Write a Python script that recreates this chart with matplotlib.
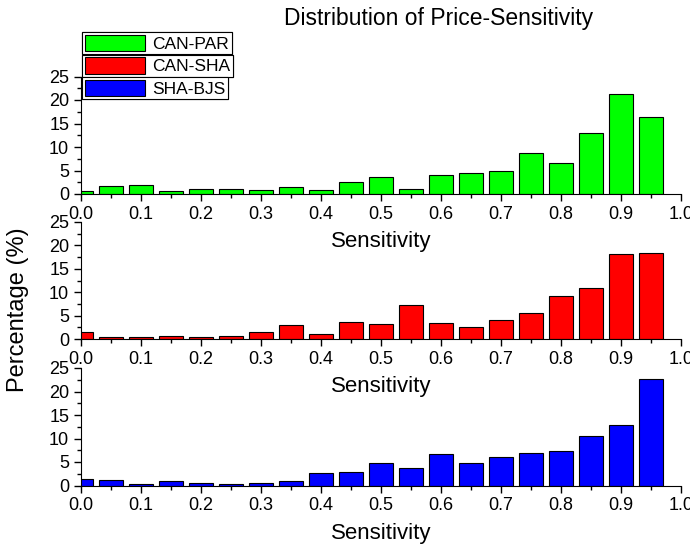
import numpy as np
import matplotlib.pyplot as plt
from matplotlib.patches import Patch
from matplotlib.ticker import MultipleLocator

plt.rcParams['font.family'] = ['Liberation Sans', 'DejaVu Sans']

# bin centres (0.00, 0.05, ... 0.95)
bins = [0.00, 0.05, 0.10, 0.15, 0.20, 0.25, 0.30, 0.35, 0.40, 0.45,
        0.50, 0.55, 0.60, 0.65, 0.70, 0.75, 0.80, 0.85, 0.90, 0.95]

can_par = [0.7, 1.7, 1.9, 0.6, 1.1, 1.0, 0.9, 1.5, 0.8, 2.5,
           3.7, 1.1, 4.1, 4.4, 5.0, 8.7, 6.7, 12.9, 21.2, 16.4]
can_sha = [1.6, 0.5, 0.4, 0.6, 0.5, 0.7, 1.5, 3.0, 1.1, 3.6,
           3.3, 7.3, 3.4, 2.6, 4.1, 5.6, 9.1, 11.0, 18.1, 18.3]
sha_bjs = [1.4, 1.2, 0.3, 1.0, 0.6, 0.4, 0.6, 1.0, 2.6, 2.9,
           4.7, 3.7, 6.8, 4.8, 6.1, 6.9, 7.4, 10.6, 12.8, 22.6]

series = [("CAN-PAR", can_par, "#00ff00"),
          ("CAN-SHA", can_sha, "#ff0000"),
          ("SHA-BJS", sha_bjs, "#0000ff")]

fig = plt.figure(figsize=(6.9, 5.47), dpi=100)

W, H = 690.0, 547.0
left, right = 81, 681
panels = [(76.5, 194), (222, 339), (368, 485.5)]  # top, bottom in px

ticks = np.arange(0, 1.01, 0.1)

for (name, vals, col), (top, bot) in zip(series, panels):
    ax = fig.add_axes([left / W, 1 - bot / H, (right - left) / W, (bot - top) / H])
    ax.patch.set_alpha(0)
    ax.bar(bins, vals, width=0.04, color=col, edgecolor='black', linewidth=0.8)
    ax.set_xlim(0, 1)
    ax.set_ylim(0, 25)
    ax.spines['top'].set_visible(False)
    ax.spines['right'].set_visible(False)
    ax.xaxis.set_minor_locator(MultipleLocator(0.05))
    ax.yaxis.set_major_locator(MultipleLocator(5))
    ax.yaxis.set_minor_locator(MultipleLocator(2.5))
    ax.tick_params(which='major', direction='out', length=5, width=1, labelsize=13, pad=3.5)
    ax.tick_params(which='minor', direction='out', length=3, width=1)
    ax.set_xticks(ticks)
    ax.set_xticklabels([f"{v:.1f}" for v in ticks])
    ax.set_xlabel("Sensitivity", fontsize=16, labelpad=6)

fig.text(439 / W, 1 - 18 / H, "Distribution of Price-Sensitivity",
         ha='center', va='center', fontsize=16.5)
fig.text(18 / W, 1 - 310 / H, "Percentage (%)", rotation=90,
         ha='center', va='center', fontsize=17)

# legend: one framed box per entry, stacked
for i, (name, vals, col) in enumerate(series):
    leg = fig.legend(handles=[Patch(facecolor=col, edgecolor='black', linewidth=0.8)],
                     labels=[name], loc='upper left',
                     bbox_to_anchor=(82 / W, 1 - (32 + 22.5 * i) / H),
                     fontsize=12.5, handlelength=3.5, handleheight=1.1,
                     handletextpad=0.4, borderpad=0.15, borderaxespad=0,
                     fancybox=False, framealpha=1, edgecolor='black')
    leg.get_frame().set_linewidth(0.8)
    fig.add_artist(leg)

fig.savefig("out.png", dpi=100)
